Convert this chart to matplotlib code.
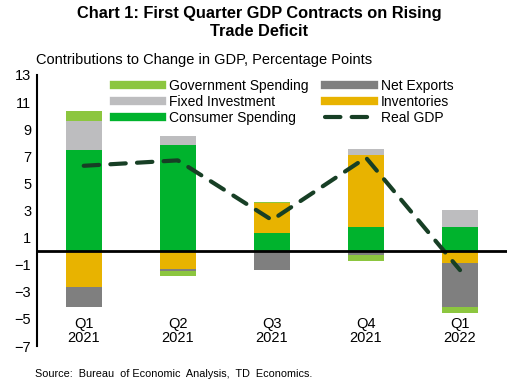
# GDP contributions chart, Q1 2021 - Q1 2022
import numpy as np
import matplotlib
matplotlib.use('Agg')
import matplotlib.pyplot as plt
from matplotlib.lines import Line2D

plt.rcParams['font.family'] = ['Liberation Sans', 'DejaVu Sans']

quarters = ['Q1\n2021', 'Q2\n2021', 'Q3\n2021', 'Q4\n2021', 'Q1\n2022']
consumer = [7.44, 7.86, 1.31, 1.76, 1.81]
inventories = [-2.62, -1.29, 2.24, 5.31, -0.85]
fixed_inv = [2.19, 0.61, -0.06, 0.49, 1.25]
net_exports = [-1.53, -0.15, -1.36, -0.26, -3.25]
government = [0.74, -0.37, 0.10, -0.44, -0.44]
real_gdp = [6.3, 6.7, 2.3, 6.9, -1.4]

series = [
    ('Consumer Spending', consumer, '#00B32D'),
    ('Inventories', inventories, '#E8B300'),
    ('Fixed Investment', fixed_inv, '#BDBDBF'),
    ('Net Exports', net_exports, '#7F7F7F'),
    ('Government Spending', government, '#8CC63F'),
]

fig = plt.figure(figsize=(5.19, 3.86), dpi=100)
ax = fig.add_axes([0.0707, 0.1036, 0.9063, 0.7021])

x = np.arange(len(quarters))
width = 0.38
pos_base = np.zeros(len(x))
neg_base = np.zeros(len(x))
handles = {}
for name, vals, color in series:
    vals = np.array(vals)
    bottom = np.where(vals >= 0, pos_base, neg_base)
    ax.bar(x, vals, width, bottom=bottom, color=color, zorder=2)
    handles[name] = Line2D([0], [0], color=color, lw=6)
    pos_base += np.where(vals >= 0, vals, 0)
    neg_base += np.where(vals < 0, vals, 0)

ax.plot(x, real_gdp, color='#173F25', lw=3, linestyle=(0, (3.7, 2.7)),
        dash_capstyle='round', zorder=3)
handles['Real GDP'] = Line2D([0], [0], color='#173F25', lw=3,
                             linestyle=(0, (3.7, 2.7)), dash_capstyle='round')

ax.axhline(0, color='black', lw=2, zorder=4)

ax.set_xlim(-0.5, 4.5)
ax.set_ylim(-7, 13)
ax.set_yticks(range(-7, 14, 2))
ax.tick_params(axis='y', length=0, labelsize=10.5, pad=4)
ax.set_xticks([])
for s in ['top', 'right', 'bottom']:
    ax.spines[s].set_visible(False)
ax.spines['left'].set_linewidth(1.5)

for i, q in enumerate(quarters):
    ax.text(i, -4.85, q, ha='center', va='top', fontsize=10.5, linespacing=1.05)

order = ['Government Spending', 'Fixed Investment', 'Consumer Spending',
         'Net Exports', 'Inventories', 'Real GDP']
ax.legend([handles[n] for n in order], order, ncol=2, loc='upper left',
          bbox_to_anchor=(0.152, 1.005), frameon=False, fontsize=10,
          handlelength=3.5, handletextpad=0.5, columnspacing=1.2,
          labelspacing=0.12, borderaxespad=0)

fig.text(0.5, 0.985, 'Chart 1: First Quarter GDP Contracts on Rising\nTrade Deficit',
         ha='center', va='top', multialignment='center', fontsize=11.8,
         fontweight='bold', linespacing=1.25)
fig.text(0.069, 0.845, 'Contributions to Change in GDP, Percentage Points',
         ha='left', va='center', fontsize=10.5)
fig.text(0.067, 0.031, 'Source:  Bureau  of Economic  Analysis,  TD  Economics.',
         ha='left', va='center', fontsize=7.8)

fig.savefig('out.png', dpi=100)
